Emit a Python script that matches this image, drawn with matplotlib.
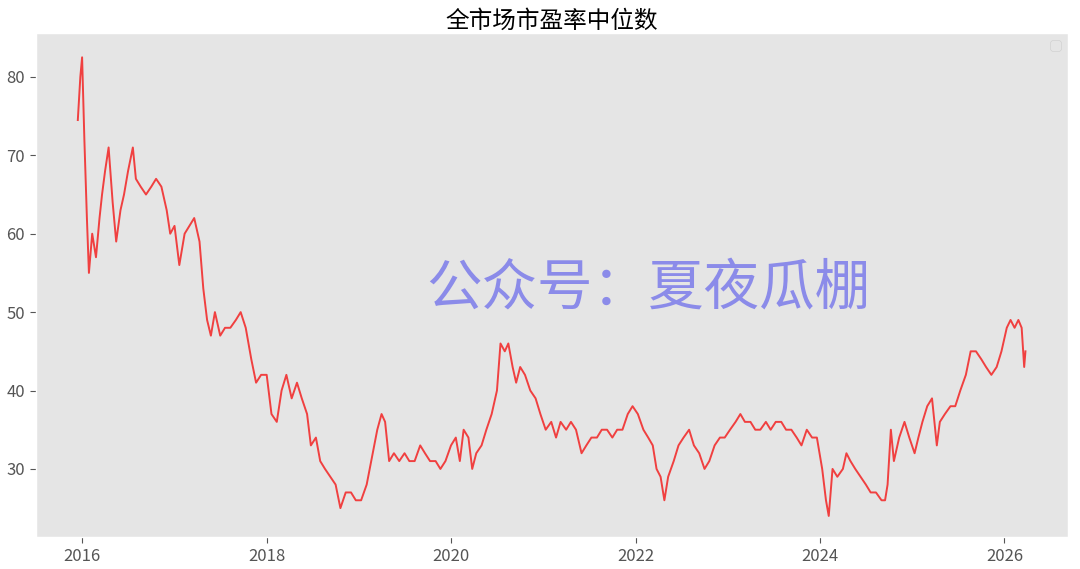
import matplotlib
matplotlib.use("Agg")
import matplotlib.pyplot as plt
import pandas as pd

dates = ["2015-12-15","2015-12-25","2016-01-01","2016-01-10","2016-01-20","2016-01-28","2016-02-10","2016-02-25","2016-03-10","2016-03-20","2016-04-01","2016-04-15","2016-05-01","2016-05-15","2016-06-01","2016-06-15","2016-07-01","2016-07-20","2016-08-01","2016-08-20","2016-09-10","2016-10-01","2016-10-20","2016-11-10","2016-12-01","2016-12-15",
"2017-01-01","2017-01-20","2017-02-10","2017-03-01","2017-03-20","2017-04-10","2017-04-25","2017-05-10","2017-05-25","2017-06-10","2017-07-01","2017-07-20","2017-08-10","2017-09-01","2017-09-20","2017-10-10","2017-11-01","2017-11-20","2017-12-10",
"2018-01-01","2018-01-20","2018-02-10","2018-03-01","2018-03-20","2018-04-10","2018-05-01","2018-05-20","2018-06-10","2018-06-25","2018-07-15","2018-08-01","2018-08-20","2018-09-10","2018-10-01","2018-10-20","2018-11-10","2018-12-01","2018-12-20",
"2019-01-10","2019-02-01","2019-02-25","2019-03-15","2019-04-01","2019-04-15","2019-05-01","2019-05-20","2019-06-10","2019-07-01","2019-07-20","2019-08-10","2019-09-01","2019-09-20","2019-10-10","2019-11-01","2019-11-20","2019-12-10",
"2020-01-01","2020-01-20","2020-02-05","2020-02-20","2020-03-10","2020-03-25","2020-04-10","2020-05-01","2020-05-20","2020-06-10","2020-07-01","2020-07-15","2020-08-01","2020-08-15","2020-09-01","2020-09-15","2020-10-01","2020-10-20","2020-11-10","2020-12-01","2020-12-20",
"2021-01-10","2021-02-01","2021-02-20","2021-03-10","2021-04-01","2021-04-20","2021-05-10","2021-06-01","2021-06-20","2021-07-10","2021-08-01","2021-08-20","2021-09-10","2021-10-01","2021-10-20","2021-11-10","2021-12-01","2021-12-20",
"2022-01-10","2022-02-01","2022-02-20","2022-03-10","2022-03-25","2022-04-10","2022-04-25","2022-05-10","2022-06-01","2022-06-20","2022-07-10","2022-08-01","2022-08-20","2022-09-10","2022-10-01","2022-10-20","2022-11-10","2022-12-01","2022-12-20",
"2023-01-10","2023-02-01","2023-02-20","2023-03-10","2023-04-01","2023-04-20","2023-05-10","2023-06-01","2023-06-20","2023-07-10","2023-08-01","2023-08-20","2023-09-10","2023-10-01","2023-10-20","2023-11-10","2023-12-01","2023-12-20",
"2024-01-10","2024-01-25","2024-02-05","2024-02-20","2024-03-10","2024-04-01","2024-04-15","2024-05-01","2024-05-20","2024-06-10","2024-07-01","2024-07-20","2024-08-10","2024-09-01","2024-09-15","2024-09-25","2024-10-08","2024-10-20","2024-11-10","2024-12-01","2024-12-20",
"2025-01-10","2025-01-25","2025-02-10","2025-03-01","2025-03-20","2025-04-08","2025-04-20","2025-05-10","2025-06-01","2025-06-20","2025-07-10","2025-08-01","2025-08-20","2025-09-10","2025-10-01","2025-10-20","2025-11-10","2025-12-01","2025-12-20",
"2026-01-10","2026-01-25","2026-02-10","2026-02-25","2026-03-10","2026-03-20","2026-03-25"]
pe_median = [74.5,80,82.5,72,62,55,60,57,62,65,68,71,64,59,63,65,68,71,67,66,65,66,67,66,63,60,
61,56,60,61,62,59,53,49,47,50,47,48,48,49,50,48,44,41,42,
42,37,36,40,42,39,41,39,37,33,34,31,30,29,28,25,27,27,26,
26,28,32,35,37,36,31,32,31,32,31,31,33,32,31,31,30,31,
33,34,31,35,34,30,32,33,35,37,40,46,45,46,43,41,43,42,40,39,37,
35,36,34,36,35,36,35,32,33,34,34,35,35,34,35,35,37,38,
37,35,34,33,30,29,26,29,31,33,34,35,33,32,30,31,33,34,34,
35,36,37,36,36,35,35,36,35,36,36,35,35,34,33,35,34,34,
30,26,24,30,29,30,32,31,30,29,28,27,27,26,26,28,35,31,34,36,34,
32,34,36,38,39,33,36,37,38,38,40,42,45,45,44,43,42,43,45,
48,49,48,49,48,43,45]

plt.style.use("ggplot")
plt.rcParams['font.family'] = ['Noto Sans CJK SC', 'DejaVu Sans']
fig, ax = plt.subplots(figsize=(10.8, 5.69), dpi=100)
fig.subplots_adjust(left=0.033, right=0.989, top=0.942, bottom=0.056)
x = pd.to_datetime(dates)
ax.plot(x, pe_median, color="#f04040", lw=1.4)
ax.grid(False)
ax.set_facecolor("#e5e5e5")
ax.set_title("全市场市盈率中位数", fontsize=17, color="black", pad=4)
ax.set_xlim(pd.Timestamp("2015-07-01"), pd.Timestamp("2026-09-10"))
ax.set_ylim(21.3, 85.6)
ax.set_yticks([30,40,50,60,70,80])
ax.tick_params(labelsize=12, colors="#555555", length=4)
ax.text(0.593, 0.49, "公众号：夏夜瓜棚", transform=ax.transAxes, fontsize=40,
        color="#7b7bea", alpha=0.85, ha="center", va="center")
leg = ax.legend([], [], loc="upper right", frameon=True, handlelength=0.6)
fig.savefig("out.png")
